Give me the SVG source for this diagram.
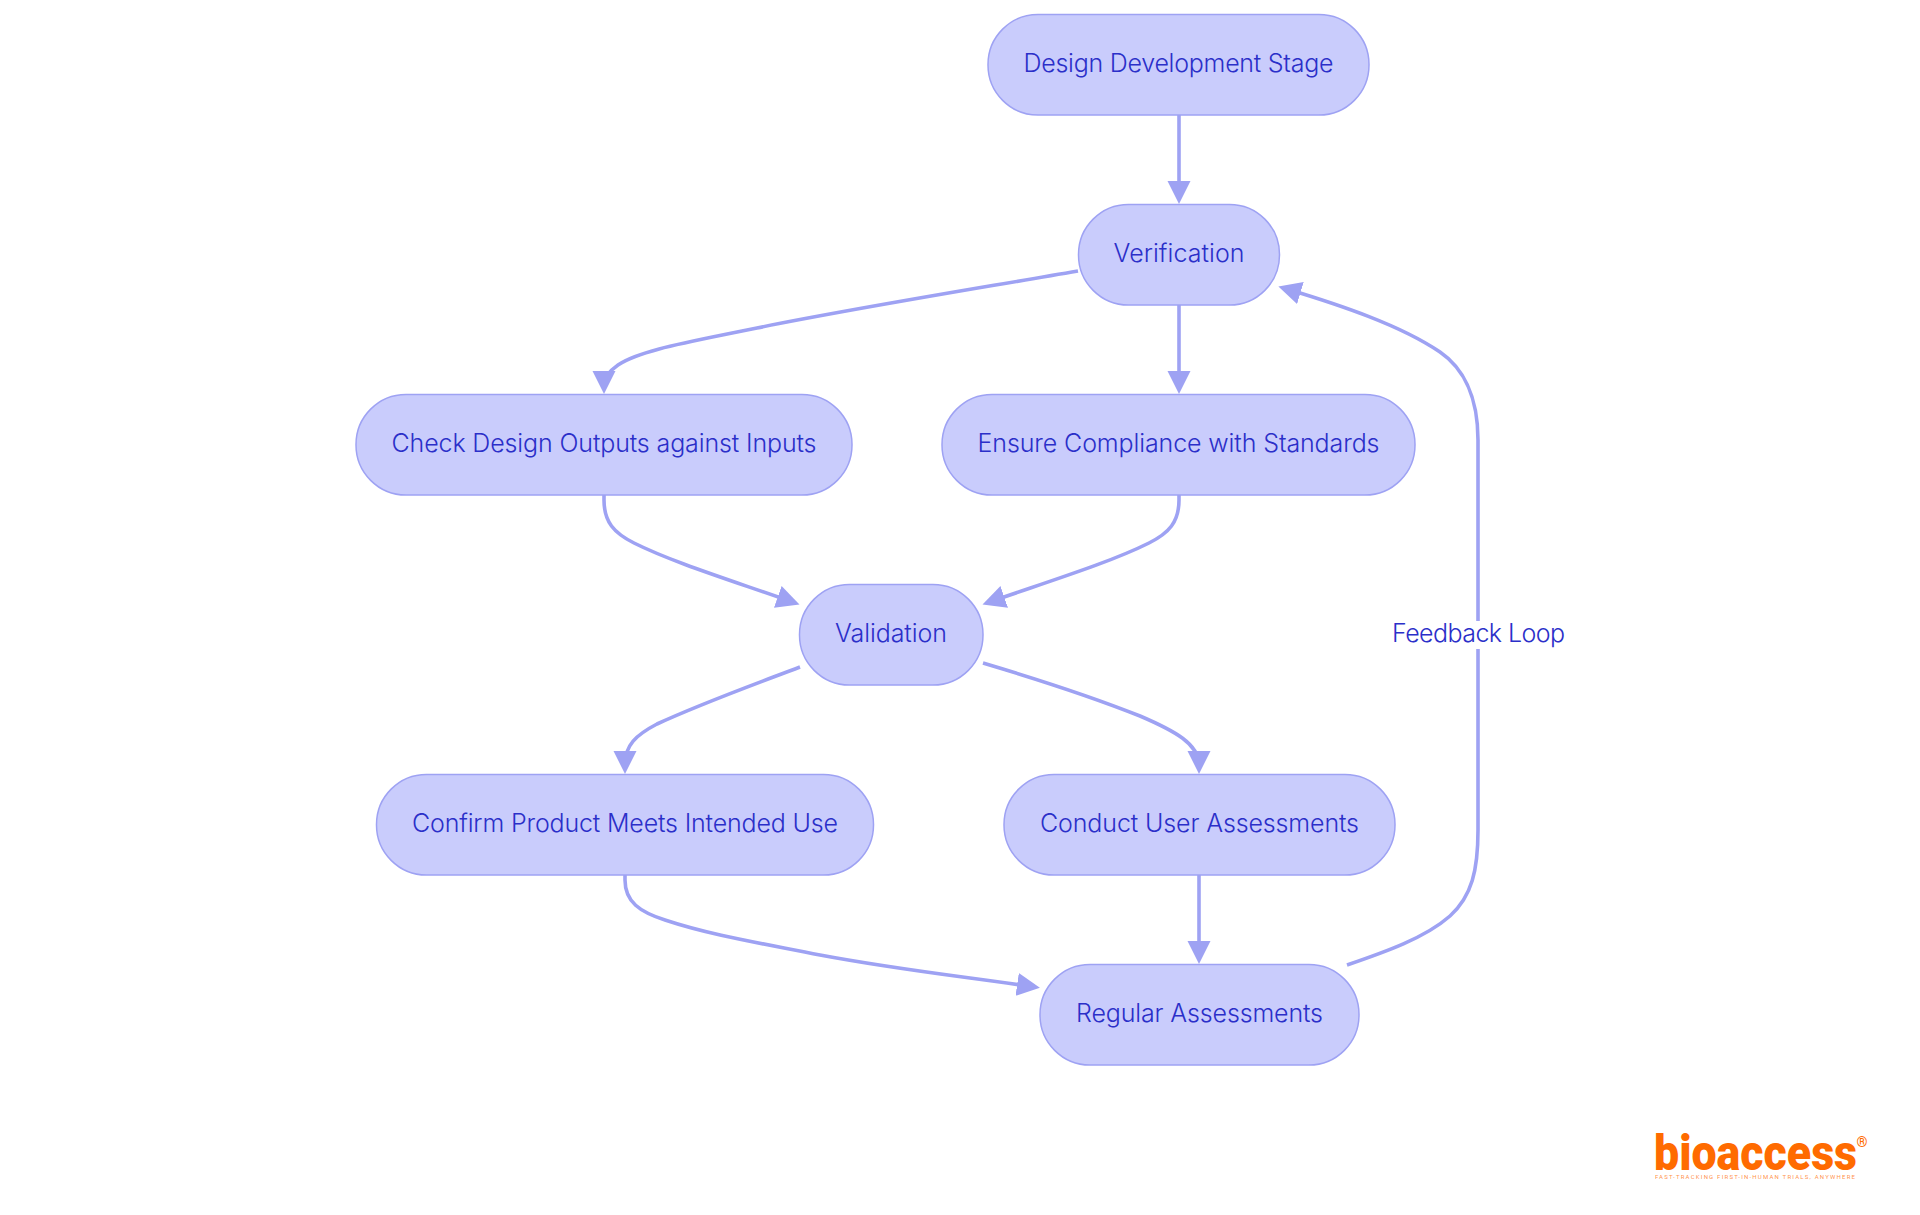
<svg xmlns="http://www.w3.org/2000/svg" width="1920" height="1215" viewBox="0 0 1920 1215">
<style>
.n{fill:#C9CCFC;stroke:#9EA2F3;stroke-width:1.5}
.t{font-family:Inter,"Noto Sans","Liberation Sans",sans-serif;font-size:25px;font-weight:300;fill:#2B2FC9;text-anchor:middle}
.e{fill:none;stroke:#9EA2F3;stroke-width:3.6;marker-end:url(#a)}
.l{font-family:Roboto,"Liberation Sans",sans-serif;fill:#FF6B00}
</style>
<defs><marker id="a" markerUnits="userSpaceOnUse" markerWidth="25" markerHeight="25" refX="14" refY="11.5" orient="auto"><path d="M0,0L23,11.5L0,23Z" fill="#9EA2F3"/></marker></defs>
<rect width="1920" height="1215" fill="#fff"/>
<g id="connectors">
<path class="e" d="M1179,115V195"/>
<path class="e" d="M1078,271C950,293 850,309 757,328C690,342 640,350 618,365C608,372 604,378 604,385"/>
<path class="e" d="M1179,305V385"/>
<path class="e" d="M604,495V500C604,522 614,533 634,543C672,562 730,580 791,601.5"/>
<path class="e" d="M1179,495V500C1179,522 1169,533 1149,543C1111,562 1053,580 991,601.5"/>
<path class="e" d="M800,667C750,686 700,704 657,724C636,735 625,745 625,765"/>
<path class="e" d="M983,663C1050,683 1100,700 1140,716C1175,731 1199,744 1199,765"/>
<path class="e" d="M1199,875V955"/>
<path class="e" d="M625,875V880C625,902 640,912 665,920C710,935 760,943 820,955C900,970 960,976 1031,986.5"/>
<path class="e" d="M1347,965C1385,952 1425,938 1450,916C1472,896 1478,870 1478,830V440C1478,395 1462,367 1440,352C1400,325 1340,305 1287,289"/>
<rect x="1388" y="621" width="180" height="28" fill="#fff"/>
<text class="t" x="1478.5" y="642" textLength="173" lengthAdjust="spacing">Feedback Loop</text>
</g>
<g id="design"><rect class="n" x="988" y="14.5" width="381" height="100.5" rx="50" ry="50"/><text class="t" x="1178.5" y="72" textLength="310" lengthAdjust="spacing">Design Development Stage</text></g>
<g id="verification"><rect class="n" x="1078.5" y="204.5" width="201" height="100.5" rx="50" ry="50"/><text class="t" x="1179" y="262" textLength="131" lengthAdjust="spacing">Verification</text></g>
<g id="check"><rect class="n" x="356" y="394.5" width="496" height="100.5" rx="50" ry="50"/><text class="t" x="604" y="452" textLength="425" lengthAdjust="spacing">Check Design Outputs against Inputs</text></g>
<g id="ensure"><rect class="n" x="942" y="394.5" width="473" height="100.5" rx="50" ry="50"/><text class="t" x="1178.5" y="452" textLength="402" lengthAdjust="spacing">Ensure Compliance with Standards</text></g>
<g id="validation"><rect class="n" x="799.5" y="584.5" width="183.5" height="100.5" rx="50" ry="50"/><text class="t" x="891" y="642" textLength="112" lengthAdjust="spacing">Validation</text></g>
<g id="confirm"><rect class="n" x="376.5" y="774.5" width="497" height="100.5" rx="50" ry="50"/><text class="t" x="625" y="832" textLength="426" lengthAdjust="spacing">Confirm Product Meets Intended Use</text></g>
<g id="conduct"><rect class="n" x="1004" y="774.5" width="391" height="100.5" rx="50" ry="50"/><text class="t" x="1199.5" y="832" textLength="319" lengthAdjust="spacing">Conduct User Assessments</text></g>
<g id="regular"><rect class="n" x="1040" y="964.5" width="319" height="100.5" rx="50" ry="50"/><text class="t" x="1199.5" y="1022" textLength="247" lengthAdjust="spacing">Regular Assessments</text></g>
<g id="logo">
<text class="l" x="1654" y="1170" font-weight="900" font-size="50" textLength="203" lengthAdjust="spacingAndGlyphs">bioaccess</text>
<text class="l" x="1862" y="1147" font-weight="700" font-size="14" text-anchor="middle">®</text>
<text class="l" x="1655" y="1179" font-weight="400" font-size="6" fill-opacity=".75" textLength="200" lengthAdjust="spacing">FAST-TRACKING FIRST-IN-HUMAN TRIALS, ANYWHERE</text>
</g>
</svg>
